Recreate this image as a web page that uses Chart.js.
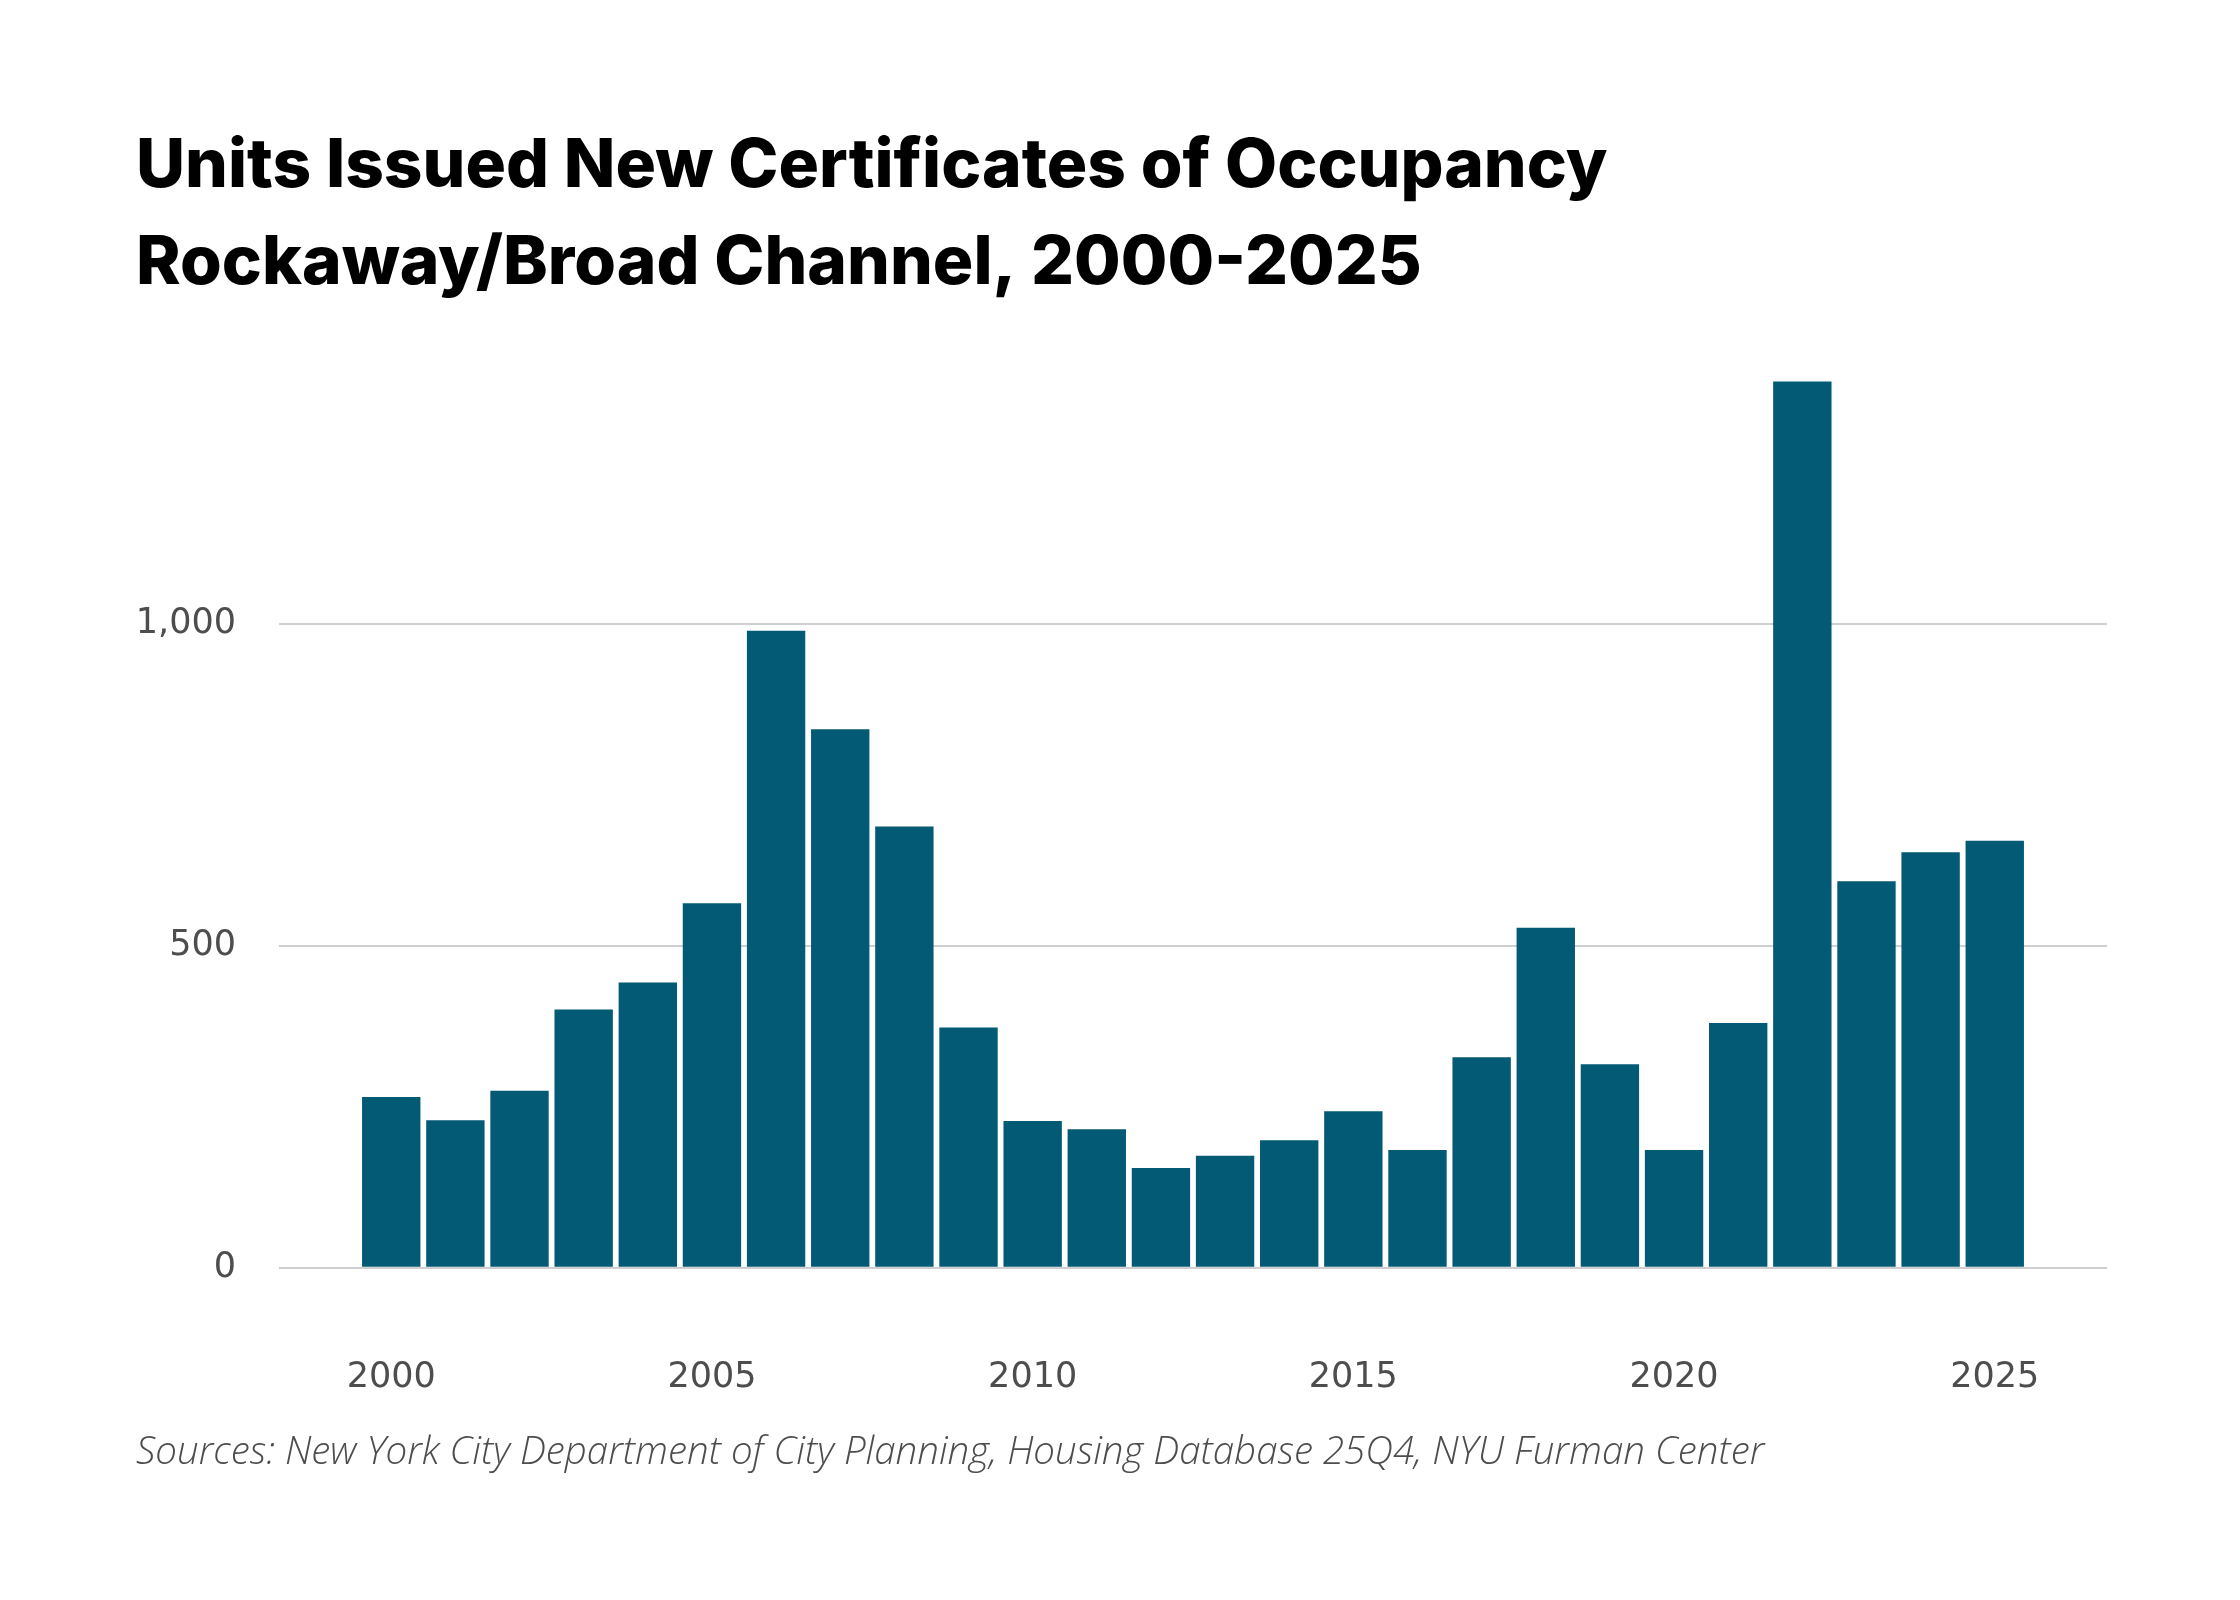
<!DOCTYPE html>
<html>
<head>
<meta charset="utf-8">
<script src="https://cdn.jsdelivr.net/npm/chart.js@4/dist/chart.umd.min.js"></script>
<style>
  html, body { margin: 0; padding: 0; background: #fff; }
  canvas { display: block; }
</style>
</head>
<body>
<canvas id="canvas" width="2240" height="1600"></canvas>
<script>
const years = [2000, 2001, 2002, 2003, 2004, 2005, 2006, 2007, 2008, 2009, 2010, 2011, 2012,
    2013, 2014, 2015, 2016, 2017, 2018, 2019, 2020, 2021, 2022, 2023, 2024, 2025];
const units = [265, 229, 275, 401, 443, 566, 989, 836, 685, 373, 228, 215, 155,
    174, 198, 243, 183, 327, 528, 316, 183, 380, 1376, 600, 645, 663];
const yTicks = [0, 500, 1000];
const xTicks = [2000, 2005, 2010, 2015, 2020, 2025];

const titleLines = ['Units Issued New Certificates of Occupancy', 'Rockaway/Broad Channel, 2000-2025'];
const sourceText = 'Sources: New York City Department of City Planning, Housing Database 25Q4, NYU Furman Center';

const tickFont = { family: 'DejaVu Sans', size: 35 };
const tickColor = '#4d4d4d';

const canvasCTX = document.getElementById('canvas').getContext('2d');

const grafico = new Chart(canvasCTX, {
    type: 'bar',
    data: {
        datasets: [{
            label: 'Units',
            data: years.map((y, i) => ({ x: y, y: units[i] })),
            backgroundColor: '#025a75',
            borderWidth: 0,
            barPercentage: 0.91,
            categoryPercentage: 1
        }]
    },
    options: {
        responsive: false,
        animation: false,
        devicePixelRatio: 1,
        layout: {
            padding: { top: 0, bottom: 0, left: 136, right: 133 }
        },
        plugins: {
            legend: { display: false },
            tooltip: { enabled: false },
            title: {
                display: true,
                text: titleLines,
                align: 'start',
                color: '#000',
                font: { family: 'Inter', size: 67.5, weight: '800', lineHeight: 1.437 },
                padding: { top: 118, bottom: 54 }
            },
            subtitle: {
                display: true,
                position: 'bottom',
                text: sourceText,
                align: 'start',
                color: '#4d4d4d',
                font: { family: 'Open Sans', size: 38.5, style: 'italic', weight: '300', lineHeight: 1.2 },
                padding: { top: 0, bottom: 124 }
            }
        },
        scales: {
            x: {
                type: 'linear',
                offset: false,
                min: 1998.25,
                max: 2026.75,
                grid: { display: false, drawTicks: false },
                border: { display: false },
                afterBuildTicks: axis => { axis.ticks = xTicks.map(v => ({ value: v })); },
                afterFit: axis => { axis.height = 162; },
                ticks: {
                    padding: 89,
                    color: tickColor,
                    font: tickFont,
                    maxRotation: 0,
                    callback: v => String(v)
                }
            },
            y: {
                min: 0,
                max: 1400,
                grid: { color: '#cfcfcf', lineWidth: 2, drawTicks: false },
                border: { display: false },
                afterBuildTicks: axis => { axis.ticks = yTicks.map(v => ({ value: v })); },
                afterFit: axis => { axis.width = 143; },
                ticks: {
                    padding: 43,
                    color: tickColor,
                    font: tickFont
                }
            }
        }
    }
});
</script>
</body>
</html>
